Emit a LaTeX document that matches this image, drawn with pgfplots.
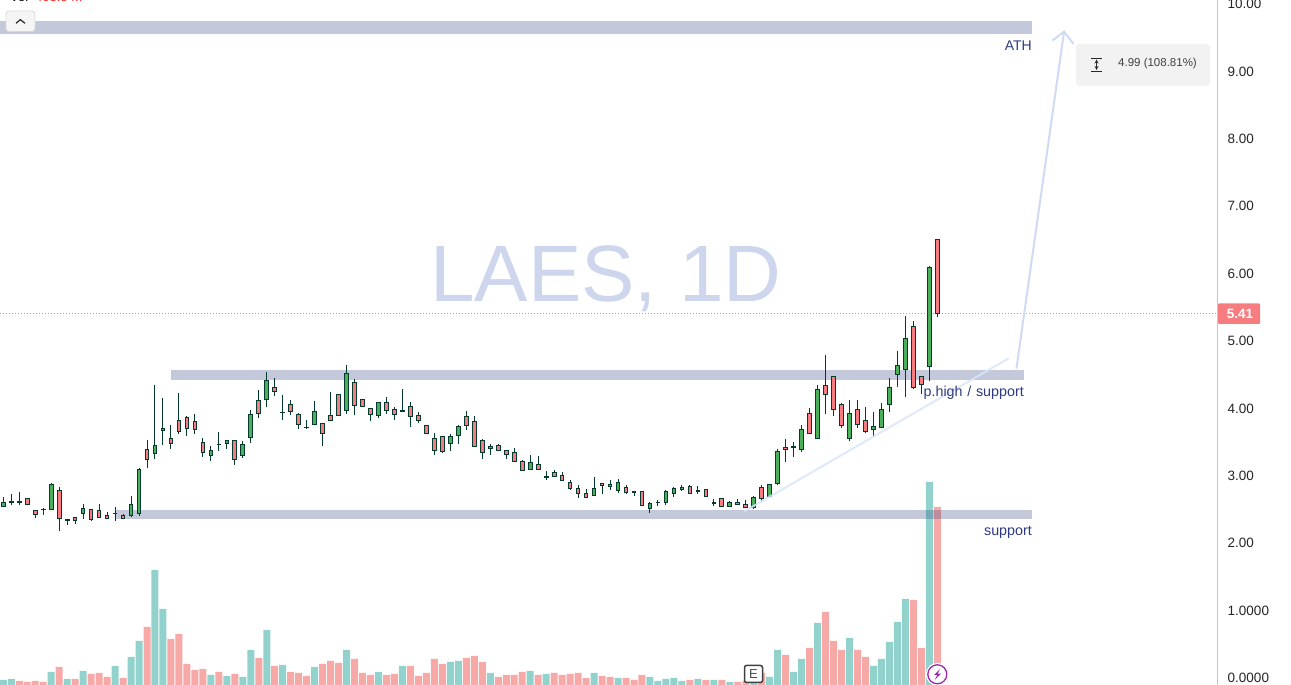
\documentclass[border=0pt]{standalone}
\usepackage{fontspec}
\setmainfont{Liberation Sans}
\usepackage{pgfplots}
\usepackage{pgfplotstable}
\pgfplotsset{compat=1.18}
\definecolor{upc}{HTML}{4CAF5C}
\definecolor{dnc}{HTML}{F77C80}
\definecolor{wick}{HTML}{053B2F}
\definecolor{volup}{HTML}{92D2CC}
\definecolor{voldn}{HTML}{F7A9A7}
\definecolor{band}{HTML}{374884}
\definecolor{wm}{HTML}{CDD6EC}
\definecolor{labelc}{HTML}{2E3A80}
\definecolor{trend}{HTML}{D8E5FB}
\definecolor{arrowc}{HTML}{CFDAF5}
\definecolor{purp}{HTML}{9C27B0}
\pgfplotstableread{
i o h l c
0 2.55 2.69 2.55 2.61
1 2.60 2.73 2.56 2.62
2 2.60 2.76 2.56 2.62
3 2.67 2.67 2.56 2.58
4 2.49 2.49 2.38 2.43
5 2.495 2.52 2.42 2.50
6 2.50 2.90 2.50 2.87
7 2.78 2.83 2.18 2.37
8 2.345 2.35 2.27 2.34
9 2.38 2.38 2.29 2.33
10 2.44 2.58 2.36 2.52
11 2.50 2.50 2.33 2.35
12 2.49 2.58 2.38 2.38
13 2.41 2.46 2.37 2.37
14 2.44 2.54 2.33 2.44
15 2.41 2.43 2.37 2.37
16 2.41 2.70 2.39 2.58
17 2.44 3.11 2.41 3.10
18 3.39 3.53 3.12 3.24
19 3.33 4.35 3.25 3.45
20 3.67 4.15 3.46 3.70
21 3.56 3.75 3.40 3.48
22 3.82 4.23 3.62 3.66
23 3.87 3.89 3.59 3.70
24 3.81 3.92 3.62 3.69
25 3.50 3.56 3.28 3.35
26 3.30 3.44 3.22 3.38
27 3.46 3.65 3.37 3.47
28 3.48 3.53 3.40 3.53
29 3.53 3.53 3.16 3.24
30 3.30 3.52 3.26 3.47
31 3.57 3.98 3.49 3.91
32 4.11 4.27 3.86 3.93
33 4.13 4.54 4.02 4.42
34 4.31 4.45 4.18 4.25
35 3.94 4.20 3.83 3.945
36 4.06 4.13 3.90 3.96
37 3.91 3.93 3.69 3.76
38 3.715 3.83 3.70 3.72
39 3.76 4.11 3.76 3.96
40 3.78 3.79 3.44 3.62
41 3.90 4.24 3.82 3.82
42 4.21 4.21 3.88 3.89
43 3.97 4.64 3.92 4.52
44 4.39 4.44 3.90 4.04
45 4.13 4.13 4.03 4.03
46 4.00 4.00 3.81 3.91
47 3.89 4.08 3.86 4.08
48 4.09 4.17 3.92 3.97
49 3.99 4.02 3.83 3.91
50 3.95 4.29 3.94 3.97
51 4.03 4.09 3.72 3.88
52 3.90 3.95 3.79 3.82
53 3.75 3.76 3.63 3.63
54 3.56 3.63 3.31 3.37
55 3.59 3.59 3.34 3.36
56 3.48 3.62 3.37 3.59
57 3.60 3.76 3.47 3.73
58 3.88 3.96 3.68 3.74
59 3.81 3.89 3.43 3.43
60 3.53 3.55 3.25 3.34
61 3.40 3.47 3.31 3.44
62 3.45 3.47 3.37 3.37
63 3.38 3.38 3.25 3.31
64 3.35 3.41 3.21 3.21
65 3.21 3.24 3.08 3.08
66 3.09 3.31 3.09 3.19
67 3.16 3.29 3.09 3.09
68 2.98 3.07 2.93 2.985
69 3.05 3.08 2.99 2.99
70 3.01 3.05 2.93 2.93
71 2.90 2.93 2.79 2.81
72 2.81 2.87 2.67 2.74
73 2.74 2.81 2.68 2.68
74 2.71 2.98 2.71 2.81
75 2.89 2.89 2.73 2.85
76 2.87 2.93 2.79 2.84
77 2.78 2.95 2.75 2.90
78 2.83 2.86 2.73 2.75
79 2.755 2.77 2.70 2.76
80 2.76 2.78 2.56 2.56
81 2.51 2.61 2.45 2.59
82 2.60 2.64 2.55 2.605
83 2.60 2.79 2.57 2.77
84 2.74 2.83 2.69 2.81
85 2.79 2.87 2.78 2.83
86 2.84 2.86 2.73 2.73
87 2.76 2.85 2.73 2.78
88 2.80 2.80 2.68 2.69
89 2.595 2.66 2.55 2.60
90 2.67 2.67 2.55 2.55
91 2.55 2.62 2.55 2.61
92 2.61 2.65 2.56 2.57
93 2.58 2.64 2.53 2.53
94 2.53 2.70 2.50 2.68
95 2.83 2.87 2.62 2.66
96 2.69 2.87 2.69 2.87
97 2.88 3.39 2.87 3.36
98 3.42 3.54 3.20 3.39
99 3.42 3.50 3.28 3.44
100 3.39 3.76 3.36 3.68
101 3.93 4.00 3.62 3.62
102 3.56 4.34 3.56 4.28
103 4.34 4.79 3.91 4.21
104 4.48 4.48 3.89 3.99
105 4.06 4.08 3.71 3.74
106 3.55 4.13 3.51 3.93
107 3.99 4.13 3.71 3.76
108 3.82 4.02 3.63 3.65
109 3.68 3.94 3.58 3.73
110 3.72 4.08 3.72 3.99
111 4.06 4.45 3.95 4.31
112 4.51 4.85 4.32 4.64
113 4.57 5.37 4.17 5.03
114 5.22 5.29 4.29 4.31
115 4.47 4.47 4.21 4.36
116 4.62 6.11 4.41 6.09
117 6.51 6.51 5.36 5.41
}\candles
\pgfplotstableread{
i v
0 5
1 6
6 13
8 6
10 14
14 19
16 28
17 44
19 115
20 76
26 10
28 9
30 8
31 35
33 55
35 20
39 18
43 35
47 13
50 19
56 23
57 24
61 12
66 14
68 11
74 12
77 7
81 8
82 4
83 6
84 7
85 4
87 6
89 5
91 3
94 8
96 8
97 35
99 13
100 26
102 62
106 47
109 19
110 26
111 43
112 63
113 86
116 203
}\volup
\pgfplotstableread{
i v
2 4
3 3
4 4
5 3
7 18
9 6
11 11
12 12
13 8
15 7
18 58
21 46
22 51
23 21
24 15
25 16
27 13
29 11
32 27
34 19
36 13
37 12
38 9
40 21
41 24
42 22
44 26
45 12
46 10
48 10
49 11
51 19
52 9
53 12
54 26
55 21
58 27
59 29
60 23
62 8
63 10
64 10
65 13
67 10
69 12
70 10
71 11
72 12
73 7
75 9
76 8
78 7
79 5
80 10
86 5
88 5
90 5
92 3
93 4
95 12
98 30
101 37
103 73
104 44
105 35
107 35
108 28
114 85
115 37
117 178
}\voldn
\begin{document}
\begin{tikzpicture}[x=1pt,y=1pt]
\path[use as bounding box] (0,0) rectangle (1291,685);
% watermark
\node[text=wm,font=\fontsize{80}{80}\selectfont,anchor=center] at (606,406.5) {LAES, 1D};
% volume
\begin{axis}[at={(0,0)},anchor=south west,scale only axis,width=1217.5pt,height=685pt,
  xmin=-0.413,xmax=152.09,ymin=0,ymax=685,hide axis,clip=true]
\addplot[ybar,bar width=7pt,bar shift=0pt,draw=none,fill=volup] table[x=i,y=v] {\volup};
\addplot[ybar,bar width=7pt,bar shift=0pt,draw=none,fill=voldn] table[x=i,y=v] {\voldn};
\end{axis}
% price
\begin{axis}[at={(0,0)},anchor=south west,scale only axis,width=1217.5pt,height=685pt,
  xmin=-0.413,xmax=152.09,ymin=-0.104,ymax=10.059,
  axis x line=none,axis y line=right,axis line style={-,draw=black!22,line width=1pt},
  major tick length=0pt,ytick={0,1,...,10},
  yticklabels={0.0000,1.0000,2.00,3.00,4.00,5.00,6.00,7.00,8.00,9.00,10.00},
  yticklabel style={anchor=west,inner sep=0pt,xshift=10pt,font=\fontsize{13.5}{14}\selectfont,text=black!85},
  /pgf/number format/assume math mode=true,clip=true]
% bands
\addplot[draw=none,fill=band,fill opacity=0.3] coordinates {(-0.413,9.748)(128.86,9.748)(128.86,9.555)(-0.413,9.555)} -- cycle;
\addplot[draw=none,fill=band,fill opacity=0.3] coordinates {(21.0,4.57)(127.86,4.57)(127.86,4.42)(21.0,4.42)} -- cycle;
\addplot[draw=none,fill=band,fill opacity=0.3] coordinates {(13.99,2.493)(128.86,2.493)(128.86,2.364)(13.99,2.364)} -- cycle;
% last price
\addplot[draw=dnc,line width=0.8pt,dash pattern=on 1pt off 2pt] coordinates {(-0.413,5.41)(152.09,5.41)};
% candles
\pgfplotsinvokeforeach{0,...,117}{
  \pgfplotstablegetelem{#1}{o}\of\candles \let\vo\pgfplotsretval
  \pgfplotstablegetelem{#1}{h}\of\candles \let\vh\pgfplotsretval
  \pgfplotstablegetelem{#1}{l}\of\candles \let\vl\pgfplotsretval
  \pgfplotstablegetelem{#1}{c}\of\candles \let\vc\pgfplotsretval
  \pgfmathsetmacro\xl{#1-0.23}
  \pgfmathsetmacro\xr{#1+0.23}
  \ifdim\vc pt<\vo pt \def\bodyc{dnc}\else\def\bodyc{upc}\fi
  \addplot[draw=wick,line width=1pt] coordinates {(#1,\vl)(#1,\vh)};
  \edef\drawbody{\noexpand\addplot[draw=wick,fill=\bodyc,line width=1pt] coordinates {(\xl,\vo)(\xr,\vo)(\xr,\vc)(\xl,\vc)} -- cycle;}
  \drawbody
}
% trend lines
\addplot[draw=trend,line width=2pt,opacity=0.85] coordinates {(92.82,2.473)(125.94,4.743)};
\addplot[draw=arrowc,line width=2pt] coordinates {(126.9,4.589)(132.87,9.589)};
\addplot[draw=arrowc,line width=2pt] coordinates {(131.4,9.456)(132.87,9.589)(134.04,9.407)};
\end{axis}
% annotations
\node[text=labelc,font=\fontsize{14}{14}\selectfont,anchor=east,inner sep=0pt] at (1032,639.5) {ATH};
\node[text=labelc,font=\fontsize{14.3}{14}\selectfont,anchor=east,inner sep=0pt] at (1032,153) {support};
\node[text=labelc,font=\fontsize{14.3}{14}\selectfont,anchor=east,inner sep=0pt] at (1024,292.5) {p.high\,\,/\,\,support};
% measure box
\fill[fill=black!5,rounded corners=3pt] (1076,641) rectangle (1210,599);
\draw[black!85,line width=0.8pt] (1091,626.7) -- (1102,626.7) (1091,613.7) -- (1102,613.7);
\draw[black!85,line width=0.8pt,<->,>=stealth] (1096.5,625.5) -- (1096.5,615);
\node[text=black!75,font=\fontsize{11.5}{12}\selectfont,anchor=center,inner sep=0pt] at (1157.5,621) {4.99 (108.81\%)};
% last price badge
\fill[fill=dnc,rounded corners=1pt] (1218,381.5) rectangle (1260,361);
\node[text=white,font=\bfseries\fontsize{13.5}{14}\selectfont,anchor=center,inner sep=0pt] at (1240,371.5) {5.41};
% collapse button
\draw[draw=black!15,fill=black!4,rounded corners=3pt,line width=0.8pt] (6,674) rectangle (35,653.5);
\draw[black!85,line width=1.2pt] (16,661.7) -- (20.4,665.3) -- (25,661.7);
% cropped header text
\node[text=black,font=\fontsize{13}{14}\selectfont,anchor=base west,inner sep=0pt] at (10,683) {Vol};
\node[text=red!85,font=\fontsize{13}{14}\selectfont,anchor=base west,inner sep=0pt] at (35,683) {463.8 M};
% earnings marker
\draw[draw=black!75,fill=white,rounded corners=2pt,line width=1.5pt] (744.5,19.5) rectangle (762.5,2.5);
\node[text=black!70,font=\fontsize{13}{13}\selectfont,anchor=center,inner sep=0pt] at (753.5,11) {E};
% lightning marker
\fill[white] (937.3,10.7) circle (11.5);
\draw[purp,line width=1.3pt,fill=white] (937.3,10.7) circle (9.5);
\fill[purp] (940,16) -- (934,10) -- (937.3,10) -- (934.7,5) -- (941,11.3) -- (937.7,11.3) -- cycle;
\end{tikzpicture}
\end{document}
